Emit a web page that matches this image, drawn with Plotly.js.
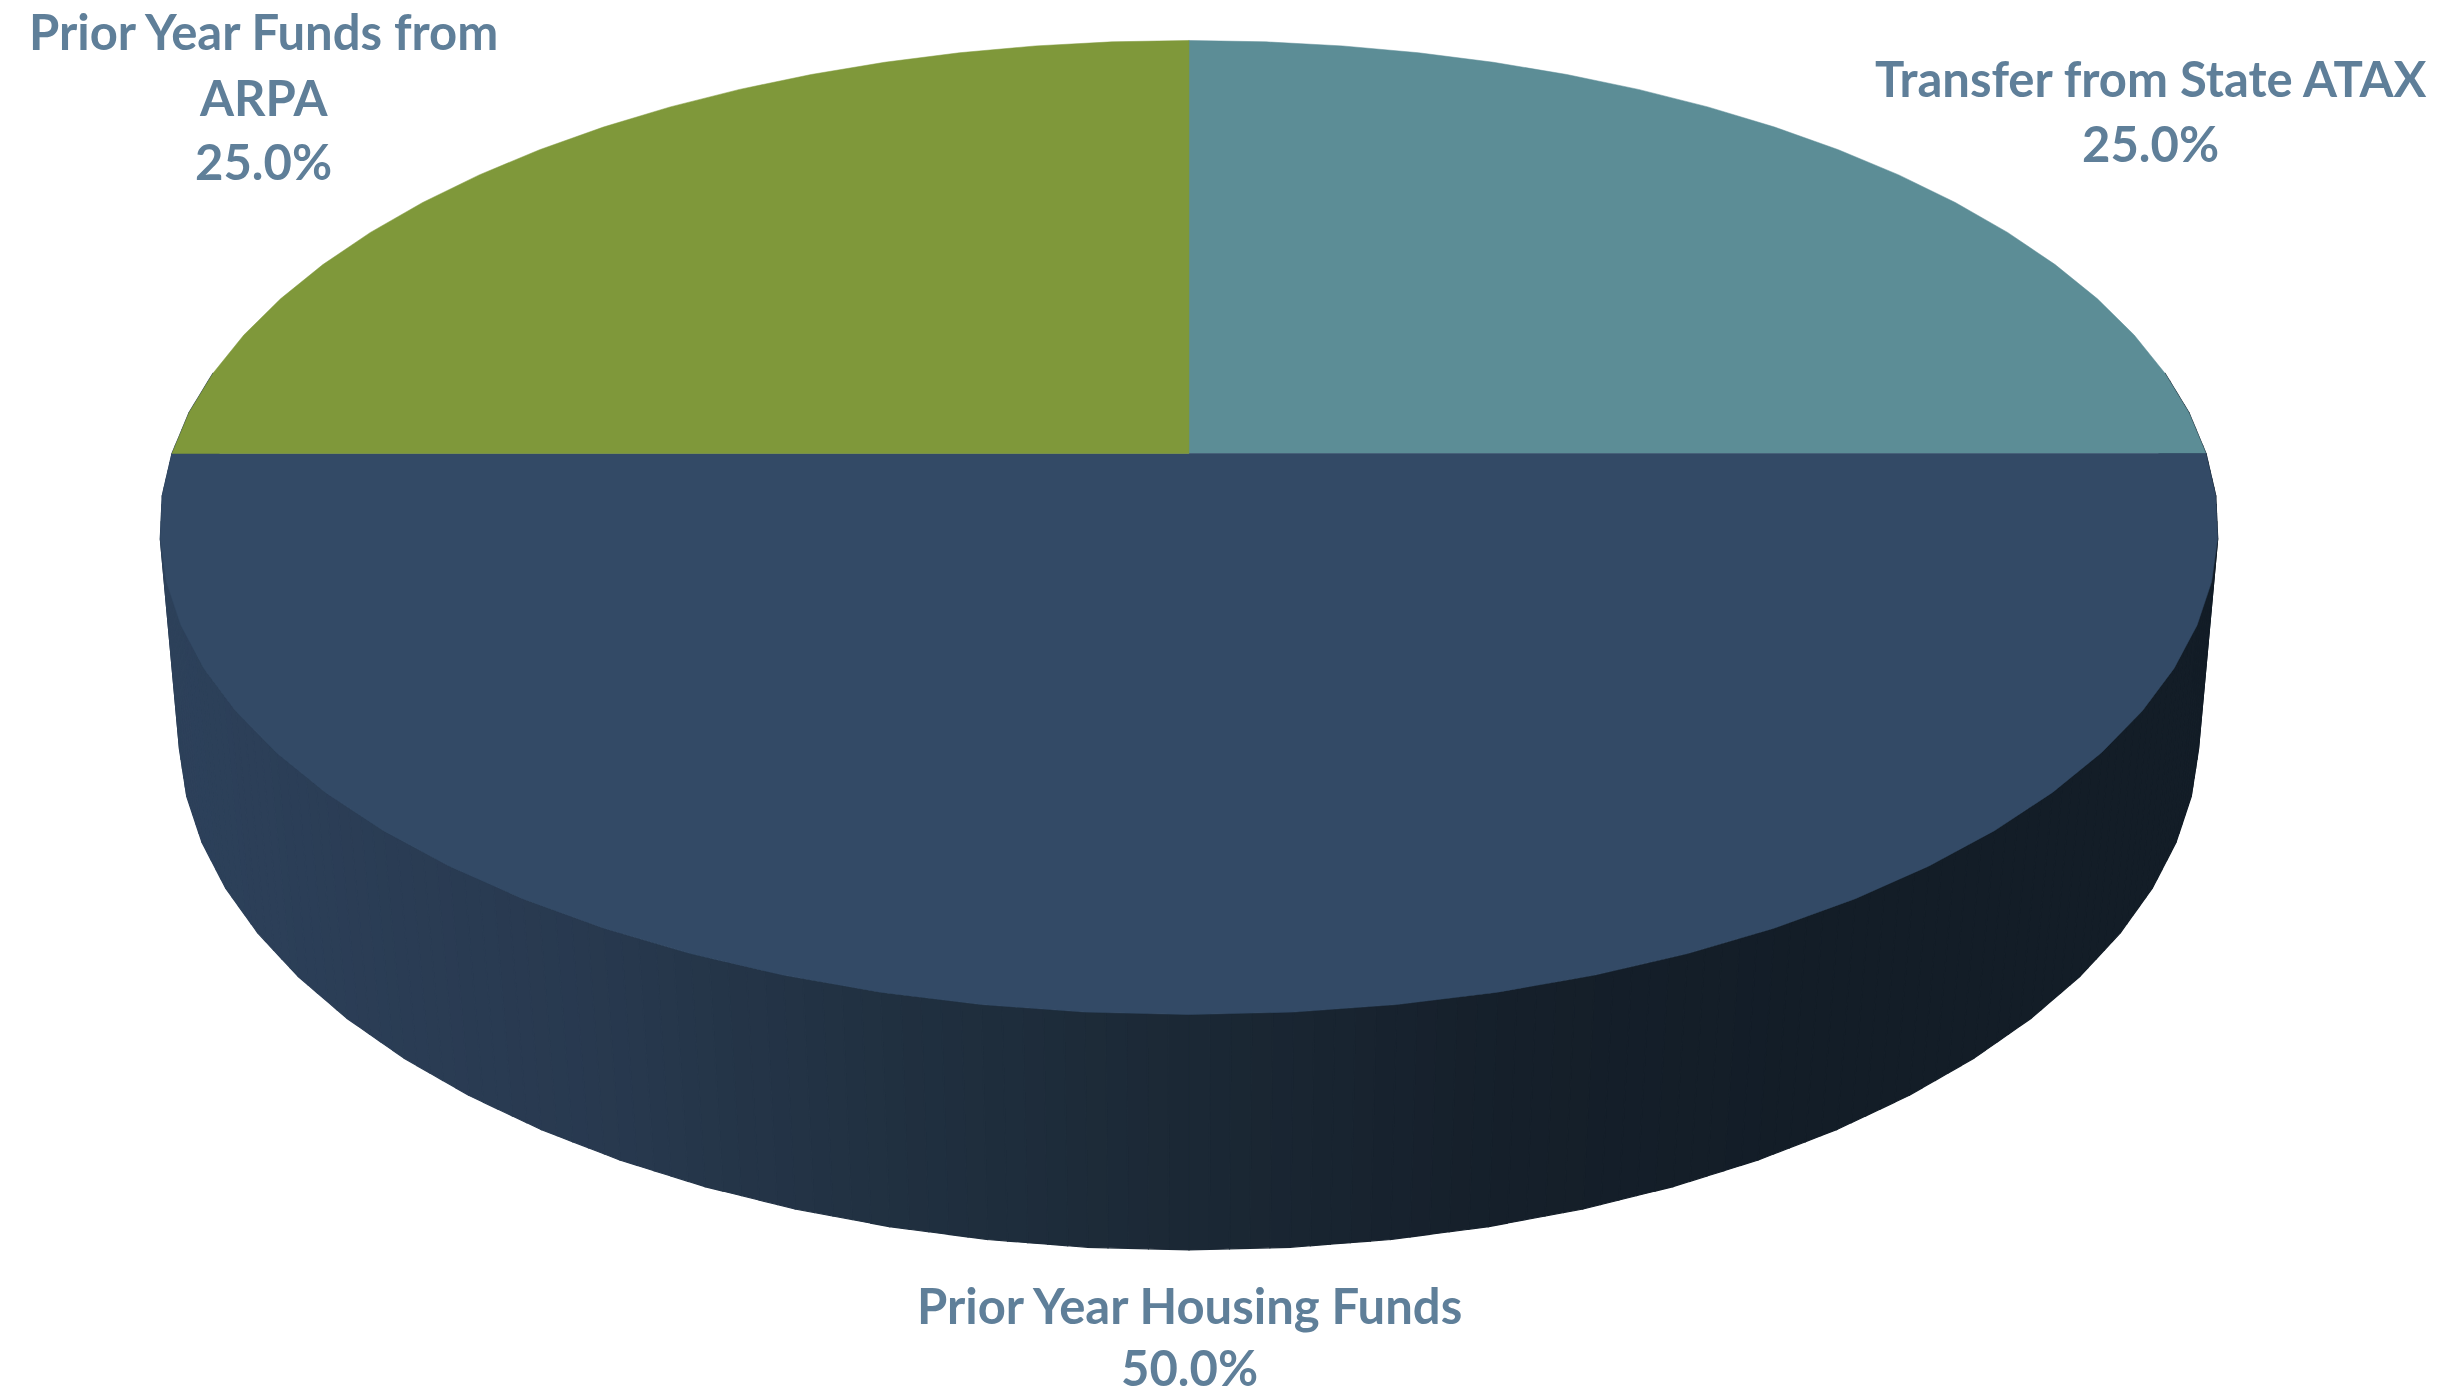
<!DOCTYPE html>
<html>
<head>
<meta charset="utf-8">
<script src="https://cdn.plot.ly/plotly-3.0.1.min.js"></script>
<style>html,body{margin:0;padding:0;background:#fff}</style>
</head>
<body>
<div id="chart" style="width:2443px;height:1396px"></div>
<script>
// Data
const categories = ["Transfer from State ATAX", "Prior Year Housing Funds", "Prior Year Funds from ARPA"];
const values = [25, 50, 25];
const sliceColors = ["#5C8D96", "#334A66", "#7F983A"];
const labelLines = [["Transfer from State ATAX"], ["Prior Year Housing Funds"], ["Prior Year Funds from", "ARPA"]];

// Styling / projection of the tilted disc (perspective view of a circle)
const W = 2443, H = 1396;
const topDisc = {cx: 1189, cy: 453.5, kx: 1017, ky: 475.8, p: 0.152};
const lowDisc = {cx: 1189, cy: 660.6, kx: 1000, ky: 506.8, p: 0.14};
const FACET = 5, SUB = 5;
const wallStops = [[160,[45,65,91]],[600,[40,57,79]],[900,[32,48,64]],[1189,[27,40,53]],[1500,[21,31,42]],[1800,[19,29,39]]];
const textColor = "#5F7F99";
const labelFont = {family: "Lato, 'Open Sans', sans-serif", size: 49, color: textColor, weight: 700};
const labelAnchors = [
  {x: 2150, ys: [78, 143]},
  {x: 1189, ys: [1305, 1367]},
  {x: 263, ys: [31, 97, 161]}
];

function project(d, deg) {
  const r = deg * Math.PI / 180, u = Math.sin(r), v = Math.cos(r), q = 1 + d.p * v;
  return [d.cx + d.kx * u / q, d.cy - d.ky * v / q];
}
function wallColor(x) {
  let a = wallStops[0], b = wallStops[wallStops.length - 1];
  if (x <= a[0]) return `rgb(${a[1].join(",")})`;
  if (x >= b[0]) return `rgb(${b[1].join(",")})`;
  for (let i = 0; i < wallStops.length - 1; i++) {
    if (x >= wallStops[i][0] && x <= wallStops[i + 1][0]) { a = wallStops[i]; b = wallStops[i + 1]; break; }
  }
  const t = (x - a[0]) / (b[0] - a[0]);
  return `rgb(${a[1].map((c, k) => Math.round(c + (b[1][k] - c) * t)).join(",")})`;
}
const lerp = (p, q, t) => [p[0] + (q[0] - p[0]) * t, p[1] + (q[1] - p[1]) * t];

const traces = [];
const total = values.reduce((a, b) => a + b, 0);

// Side wall: strips along the front of the disc, from 90 to 270 degrees and a little past
for (let f = 80; f < 280; f += FACET) {
  const t0 = project(topDisc, f), t1 = project(topDisc, f + FACET);
  const b0 = project(lowDisc, f), b1 = project(lowDisc, f + FACET);
  for (let s = 0; s < SUB; s++) {
    const a = s / SUB, c = (s + 1) / SUB;
    const ta = lerp(t0, t1, a), tc = lerp(t0, t1, c), ba = lerp(b0, b1, a), bc = lerp(b0, b1, c);
    const col = wallColor((ba[0] + bc[0]) / 2);
    traces.push({
      type: "scatter", mode: "lines", fill: "toself", fillcolor: col,
      x: [ta[0], tc[0], bc[0], ba[0], ta[0]],
      y: [ta[1], tc[1], bc[1], ba[1], ta[1]],
      line: {color: col, width: 1.2}, hoverinfo: "skip", showlegend: false
    });
  }
}

// Top face: one wedge per category, start at 12 o'clock, clockwise
let acc = 0;
categories.forEach((name, i) => {
  const a0 = acc / total * 360, a1 = (acc + values[i]) / total * 360;
  acc += values[i];
  const xs = [topDisc.cx], ys = [topDisc.cy];
  for (let a = a0; a <= a1 + 1e-6; a += FACET) {
    const p = project(topDisc, a);
    xs.push(p[0]); ys.push(p[1]);
  }
  xs.push(topDisc.cx); ys.push(topDisc.cy);
  traces.push({
    type: "scatter", mode: "lines", fill: "toself", fillcolor: sliceColors[i],
    x: xs, y: ys, name: name,
    line: {color: sliceColors[i], width: 0.5}, hoverinfo: "name", showlegend: false
  });
});

// Labels: category lines and the percentage, one annotation a line for exact spacing
const annotations = [];
categories.forEach((name, i) => {
  const lines = labelLines[i].concat([(values[i] / total * 100).toFixed(1) + "%"]);
  lines.forEach((text, k) => annotations.push({
    xref: "x", yref: "y", x: labelAnchors[i].x, y: labelAnchors[i].ys[k],
    text: text, showarrow: false, xanchor: "center", yanchor: "middle",
    font: labelFont
  }));
});

Plotly.newPlot("chart", traces, {
  width: W, height: H,
  margin: {l: 0, r: 0, t: 0, b: 0},
  paper_bgcolor: "#fff", plot_bgcolor: "#fff",
  showlegend: false,
  xaxis: {range: [0, W], visible: false, fixedrange: true},
  yaxis: {range: [H, 0], visible: false, fixedrange: true},
  annotations: annotations
}, {displayModeBar: false});
</script>
</body>
</html>
